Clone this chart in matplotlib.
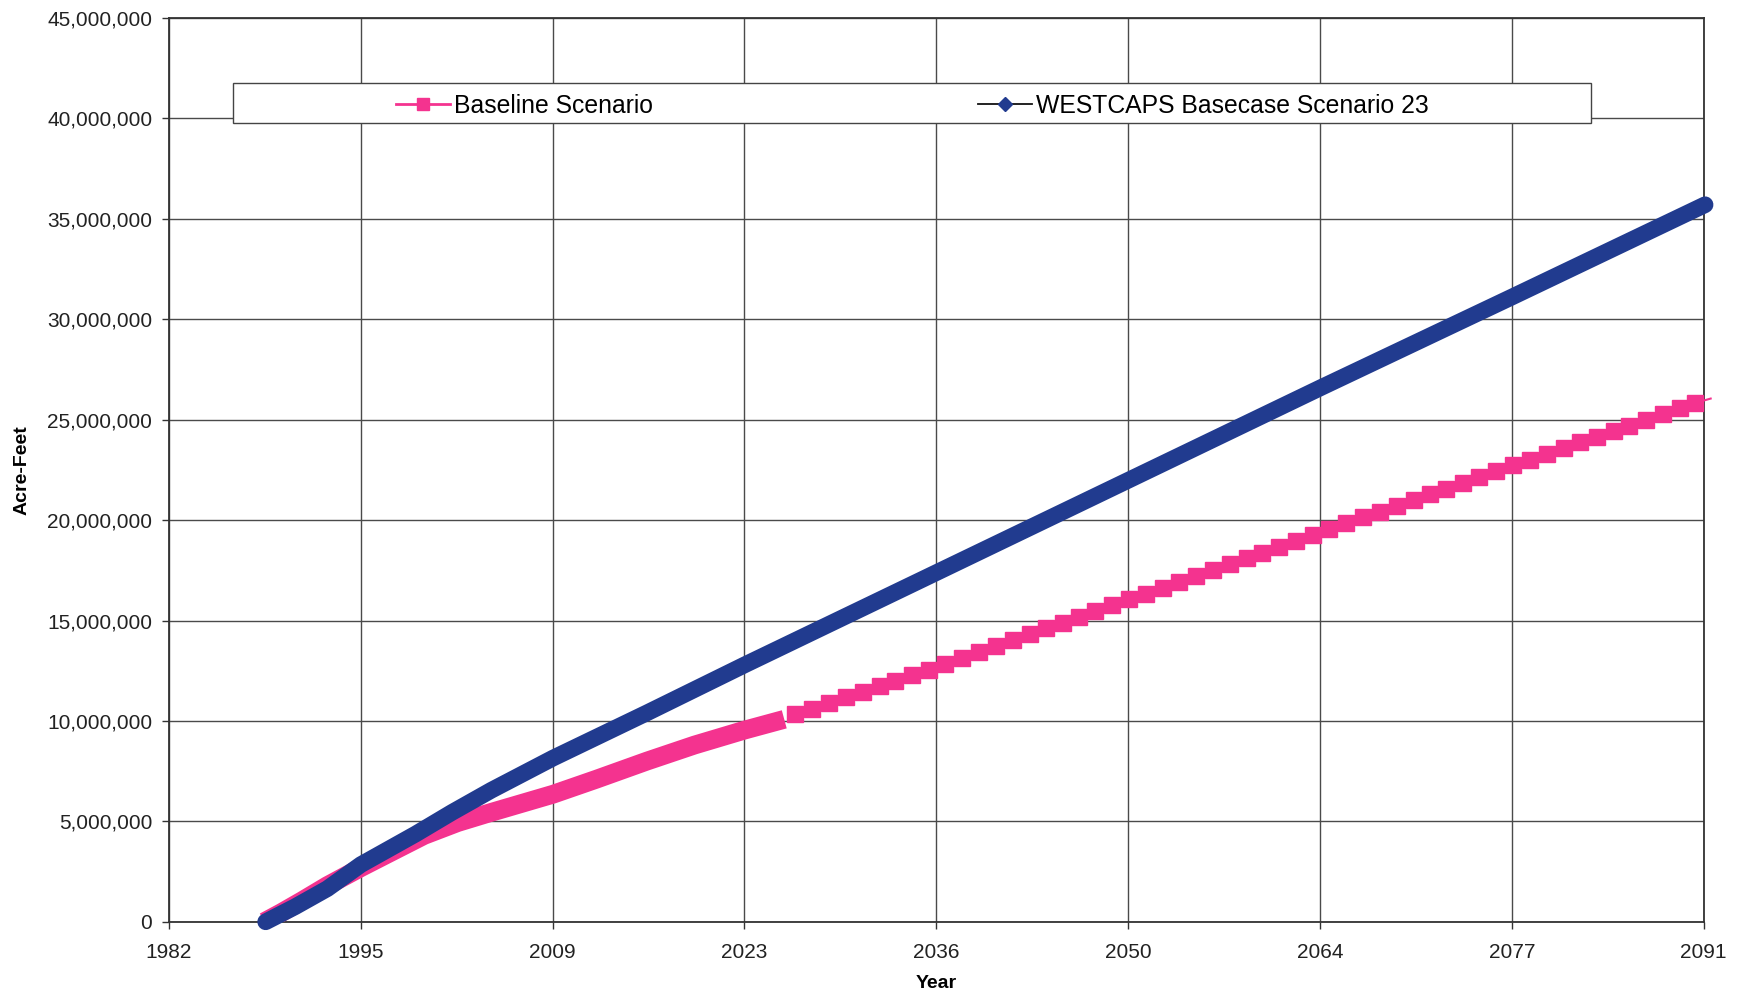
import numpy as np
import matplotlib
matplotlib.use("Agg")
from matplotlib import pyplot as plt
from matplotlib.lines import Line2D
from matplotlib.patches import Rectangle
from matplotlib.ticker import FuncFormatter

plt.rcParams['font.family'] = ['Liberation Sans', 'DejaVu Sans']

# WESTCAPS Basecase Scenario 23 (years, acre-feet in millions)
westcaps_years = [1988.9, 1991.0, 1993.3, 1995.7, 1999.6, 2002.2, 2005.0, 2009.4, 2016.1,
                  2023.1, 2036.8, 2050.5, 2064.2, 2077.8, 2091.6]
westcaps_vals = [0.0, 0.75, 1.65, 2.85, 4.37, 5.45, 6.55, 8.15, 10.4,
                 12.8, 17.4, 22.0, 26.6, 31.1, 35.7]

# Baseline Scenario, dense early part (markers overlap into a band)
base_early_years = [1988.8, 1990.0, 1991.5, 1993.3, 1995.7, 1998.0, 2000.2, 2002.6, 2005.0,
                    2009.4, 2012.5, 2016.1, 2019.5, 2023.1, 2025.9]
base_early_vals = [0.0, 0.45, 1.05, 1.8, 2.7, 3.52, 4.3, 4.94, 5.45,
                   6.35, 7.1, 8.0, 8.8, 9.55, 10.08]

# Baseline Scenario, later part (individual markers visible)
base_late_years = [2026.7, 2027.9, 2029.1, 2030.3, 2031.5, 2032.7, 2033.8, 2035.0, 2036.2, 2037.4,
                   2038.6, 2039.8, 2041.0, 2042.2, 2043.4, 2044.6, 2045.8, 2046.9, 2048.1, 2049.3,
                   2050.5, 2051.7, 2052.9, 2054.1, 2055.3, 2056.5, 2057.7, 2058.9, 2060.0, 2061.2,
                   2062.4, 2063.6, 2064.8, 2066.0, 2067.2, 2068.4, 2069.6, 2070.8, 2072.0, 2073.1,
                   2074.3, 2075.5, 2076.7, 2077.9, 2079.1, 2080.3, 2081.5, 2082.7, 2083.9, 2085.1,
                   2086.2, 2087.4, 2088.6, 2089.8, 2090.9, 2092.0]
base_late_vals = [10.35, 10.61, 10.89, 11.17, 11.45, 11.73, 12.0, 12.28, 12.56, 12.85,
                  13.14, 13.44, 13.73, 14.02, 14.32, 14.61, 14.9, 15.17, 15.46, 15.76,
                  16.05, 16.34, 16.64, 16.93, 17.22, 17.52, 17.81, 18.11, 18.38, 18.67,
                  18.96, 19.25, 19.55, 19.84, 20.13, 20.42, 20.71, 21.0, 21.3, 21.56,
                  21.85, 22.14, 22.43, 22.72, 23.01, 23.3, 23.58, 23.87, 24.16, 24.44,
                  24.7, 24.99, 25.28, 25.57, 25.83, 26.05]

xtick_labels = ['1982', '1995', '2009', '2023', '2036', '2050', '2064', '2077', '2091']

pink = '#F4338F'
navy = '#213B8F'
grid_c = '#4a4a4a'

fig = plt.figure(figsize=(17.42, 9.96), dpi=100)
ax = fig.add_axes([0.097, 0.0745, 0.881, 0.9075])

M = 1e6
ax.plot(base_early_years, np.array(base_early_vals) * M, color=pink, lw=13.5,
        solid_capstyle='butt', solid_joinstyle='round', zorder=3)
ax.plot(base_late_years, np.array(base_late_vals) * M, color=pink, lw=1.5,
        marker='s', markersize=11, markevery=list(range(len(base_late_years) - 1)),
        markeredgecolor=pink, clip_on=False, zorder=3)
ax.plot(westcaps_years, np.array(westcaps_vals) * M, color=navy, lw=12,
        solid_capstyle='round', solid_joinstyle='round', clip_on=False, zorder=4)

ax.set_xlim(1982, 2091.5)
ax.set_ylim(0, 45e6)
ax.set_xticks(np.linspace(1982, 2091.5, len(xtick_labels)))
ax.set_xticklabels(xtick_labels)
ax.set_yticks(np.arange(0, 45e6 + 1, 5e6))
ax.yaxis.set_major_formatter(FuncFormatter(lambda v, p: '{:,.0f}'.format(v)))

ax.grid(True, color=grid_c, lw=1.0)
ax.set_axisbelow(True)
for s in ax.spines.values():
    s.set_color('#333333')
    s.set_linewidth(1.3)
ax.tick_params(axis='both', direction='out', length=5, width=1, color='#333333',
               labelsize=15, labelcolor='#222222')
ax.tick_params(axis='y', pad=7)
ax.tick_params(axis='x', pad=10.5)

ax.set_xlabel('Year', fontsize=14, fontweight='bold', labelpad=9)
ax.set_ylabel('Acre-Feet', fontsize=14, fontweight='bold', labelpad=12)

# legend box
ax.add_patch(Rectangle((0.0417, 0.884), 0.885, 0.044, transform=ax.transAxes,
                       facecolor='white', edgecolor='#444444', lw=1.0, zorder=5))
h1 = Line2D([], [], color=pink, lw=2, marker='s', markersize=9)
h2 = Line2D([], [], color='#111111', lw=1.3, marker='D', markersize=7,
            markerfacecolor=navy, markeredgecolor=navy)
leg1 = ax.legend([h1], ['Baseline Scenario'], loc='center left', bbox_to_anchor=(0.148, 0.903),
                 frameon=False, fontsize=17.8, handlelength=2.2, handletextpad=0.15,
                 borderpad=0, borderaxespad=0)
leg1.set_zorder(6)
ax.add_artist(leg1)
leg2 = ax.legend([h2], ['WESTCAPS Basecase Scenario 23'], loc='center left',
                 bbox_to_anchor=(0.527, 0.903), frameon=False, fontsize=17.8,
                 handlelength=2.2, handletextpad=0.15, borderpad=0, borderaxespad=0)
leg2.set_zorder(6)

fig.savefig('out.png', dpi=100)
